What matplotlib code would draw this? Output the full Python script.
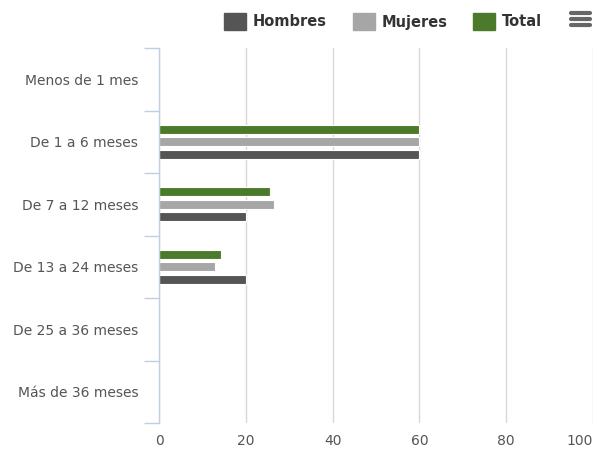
import matplotlib
matplotlib.use("Agg")
import matplotlib.pyplot as plt
from matplotlib.patches import Rectangle
from matplotlib.lines import Line2D
import numpy as np

categories = ["Menos de 1 mes", "De 1 a 6 meses", "De 7 a 12 meses",
              "De 13 a 24 meses", "De 25 a 36 meses", "Más de 36 meses"]
hombres = [0, 60, 20, 20, 0, 0]
mujeres = [0, 60, 26.5, 13.0, 0, 0]
total = [0, 60, 25.6, 14.3, 0, 0]
xticks = [0, 20, 40, 60, 80, 100]

col_h = "#555555"
col_m = "#a6a6a6"
col_t = "#4a7a2a"

W, H = 597, 450
fig = plt.figure(figsize=(W / 100, H / 100), dpi=100)

def fx(x):
    return x / W

def fy(y):
    return 1 - y / H

ax = fig.add_axes([fx(159), fy(423), fx(593) - fx(159), fy(48) - fy(423)])

y = np.arange(len(categories))
off = 0.2
bh = 0.15
kw = dict(height=bh, edgecolor="white", linewidth=0.8, zorder=3)
ax.barh(y - off, total, color=col_t, **kw)
ax.barh(y, mujeres, color=col_m, **kw)
ax.barh(y + off, hombres, color=col_h, **kw)

ax.set_ylim(len(categories) - 0.5, -0.5)
ax.set_xlim(0, 100)
ax.set_yticks(y)
ax.set_yticklabels(categories, fontsize=10, color="#555555")
ax.set_yticks(np.arange(-0.5, len(categories) + 0.5, 1), minor=True)
ax.tick_params(axis="y", which="major", length=0, pad=15)
ax.tick_params(axis="y", which="minor", length=11, color="#c0d0e0", width=1)
ax.set_xticks(xticks)
ax.set_xticklabels([str(v) for v in xticks], fontsize=10, color="#555555")
ax.get_xticklabels()[-1].set_horizontalalignment("right")
ax.tick_params(axis="x", length=0, pad=8)
ax.grid(axis="x", color="#d8d8d8", linewidth=1, zorder=0)
for s in ["top", "right", "bottom"]:
    ax.spines[s].set_visible(False)
ax.spines["left"].set_color("#c0d0e0")
ax.spines["left"].set_linewidth(1)
ax.spines["left"].set_zorder(4)

# Legend
items = [("Hombres", col_h, 224), ("Mujeres", col_m, 353), ("Total", col_t, 473)]
for label, c, x0 in items:
    fig.patches.append(Rectangle((fx(x0), fy(30)), fx(22), fy(13) - fy(30),
                                 transform=fig.transFigure, color=c))
    fig.text(fx(x0 + 29), fy(22), label, fontsize=10.5, fontweight="bold",
             color="#333333", va="center", ha="left")

# Menu icon
for yy in [13, 19, 25]:
    fig.lines.append(Line2D([fx(571), fx(590)], [fy(yy), fy(yy)],
                            transform=fig.transFigure, color="#666666",
                            linewidth=3, solid_capstyle="round"))

fig.savefig("out.png", dpi=100)
